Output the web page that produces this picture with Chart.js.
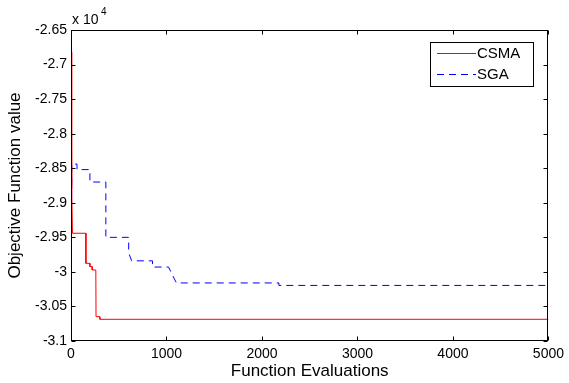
<!DOCTYPE html>
<html>
<head>
<meta charset="utf-8">
<script src="https://cdn.jsdelivr.net/npm/chart.js@4.4.1/dist/chart.umd.min.js"></script>
<style>
  body { margin: 0; background: #fff; }
  canvas { display: block; }
</style>
</head>
<body>
<canvas id="convChart" width="569" height="383"></canvas>
<script>
var csmaX = [0, 5, 10, 15, 156, 156, 198, 198, 222, 222, 260, 262, 300, 302, 5000];
var csmaY = [-26820, -27400, -28800, -29441, -29441, -29876, -29876, -29924, -29924, -29972, -29972, -30648, -30648, -30686, -30686];

var sgaX = [0, 4, 8, 63, 63, 198, 198, 365, 365, 604, 604, 635, 854, 854, 1021, 1104, 2177, 2177, 5000];
var sgaY = [-27250, -29470, -28440, -28440, -28520, -28520, -28700, -28700, -29500, -29500, -29727, -29840, -29840, -29930, -29930, -30160, -30160, -30196, -30196];

var xTicks = [0, 1000, 2000, 3000, 4000, 5000];
var yTicks = [-31000, -30500, -30000, -29500, -29000, -28500, -28000, -27500, -27000, -26500];

var FONT = "'Liberation Sans', Arial, sans-serif";

function toPoints(xs, ys) {
  return xs.map(function (x, i) { return { x: x, y: ys[i] }; });
}

// MATLAB-like box with inward ticks, legend and exponent label
var matlabBox = {
  id: 'matlabBox',
  afterDraw: function (chart) {
    var ctx = chart.ctx;
    var a = chart.chartArea;
    var xs = chart.scales.x, ys = chart.scales.y;
    var L = Math.round(a.left) + 0.5, R = Math.round(a.right) - 0.5;
    var T = Math.round(a.top) + 0.5, B = Math.round(a.bottom) - 0.5;
    ctx.save();
    ctx.strokeStyle = '#000';
    ctx.lineWidth = 1;
    ctx.strokeRect(L, T, R - L, B - T);
    ctx.beginPath();
    xTicks.forEach(function (v) {
      var px = Math.round(xs.getPixelForValue(v)) + 0.5;
      ctx.moveTo(px, B); ctx.lineTo(px, B - 4);
      ctx.moveTo(px, T); ctx.lineTo(px, T + 4);
    });
    yTicks.forEach(function (v) {
      var py = Math.round(ys.getPixelForValue(v)) + 0.5;
      ctx.moveTo(L, py); ctx.lineTo(L + 4, py);
      ctx.moveTo(R, py); ctx.lineTo(R - 4, py);
    });
    ctx.stroke();

    // exponent
    ctx.fillStyle = '#000';
    ctx.textBaseline = 'alphabetic';
    ctx.textAlign = 'left';
    ctx.font = '14px ' + FONT;
    ctx.fillText('x 10', 72, 24);
    ctx.font = '10px ' + FONT;
    ctx.fillText('4', 101, 15);

    // legend
    var bx = 430.5, by = 42.5, bw = 103, bh = 44;
    ctx.fillStyle = '#fff';
    ctx.fillRect(bx, by, bw, bh);
    ctx.strokeStyle = '#000';
    ctx.strokeRect(bx, by, bw, bh);
    ctx.font = '15px ' + FONT;
    ctx.textBaseline = 'middle';
    var rows = [53.5, 74.5];
    chart.data.datasets.forEach(function (ds, i) {
      ctx.strokeStyle = ds.borderColor;
      ctx.lineWidth = 1;
      ctx.setLineDash(ds.borderDash || []);
      ctx.beginPath();
      ctx.moveTo(437, rows[i]);
      ctx.lineTo(476, rows[i]);
      ctx.stroke();
      ctx.setLineDash([]);
      ctx.fillStyle = '#000';
      ctx.fillText(ds.label, 477, rows[i]);
    });
    ctx.restore();
  }
};

var ctx = document.getElementById('convChart').getContext('2d');
var convChart = new Chart(ctx, {
  type: 'scatter',
  data: {
    datasets: [{
      label: 'CSMA',
      data: toPoints(csmaX, csmaY),
      showLine: true,
      borderColor: '#ff0000',
      borderWidth: 1,
      pointRadius: 0,
      fill: false
    }, {
      label: 'SGA',
      data: toPoints(sgaX, sgaY),
      showLine: true,
      borderColor: '#0000ff',
      borderWidth: 1,
      borderDash: [7, 5],
      pointRadius: 0,
      fill: false
    }]
  },
  options: {
    responsive: false,
    animation: false,
    layout: { padding: { top: 30, right: 18, left: 0, bottom: 0 } },
    plugins: {
      legend: { display: false },
      tooltip: { enabled: false }
    },
    scales: {
      x: {
        type: 'linear',
        min: 0,
        max: 5000,
        afterFit: function (s) { s.height = 42; },
        afterBuildTicks: function (s) { s.ticks = xTicks.map(function (v) { return { value: v }; }); },
        grid: { display: false, drawTicks: false },
        border: { display: false },
        ticks: {
          color: '#000',
          padding: 5,
          maxRotation: 0,
          font: { family: FONT, size: 14 },
          callback: function (v) { return String(v); }
        },
        title: {
          display: true,
          text: 'Function Evaluations',
          color: '#000',
          font: { family: FONT, size: 17 },
          padding: { top: 0, bottom: 1 }
        }
      },
      y: {
        type: 'linear',
        min: -31000,
        max: -26500,
        afterFit: function (s) { s.width = 71; },
        afterBuildTicks: function (s) { s.ticks = yTicks.map(function (v) { return { value: v }; }); },
        grid: { display: false, drawTicks: false },
        border: { display: false },
        ticks: {
          color: '#000',
          padding: 4,
          font: { family: FONT, size: 14 },
          callback: function (v) { return String(Math.round(v / 10) / 1000); }
        },
        title: {
          display: true,
          text: 'Objective Function value',
          color: '#000',
          font: { family: FONT, size: 17 },
          padding: { top: 5, bottom: 0 }
        }
      }
    }
  },
  plugins: [matlabBox]
});
</script>
</body>
</html>
